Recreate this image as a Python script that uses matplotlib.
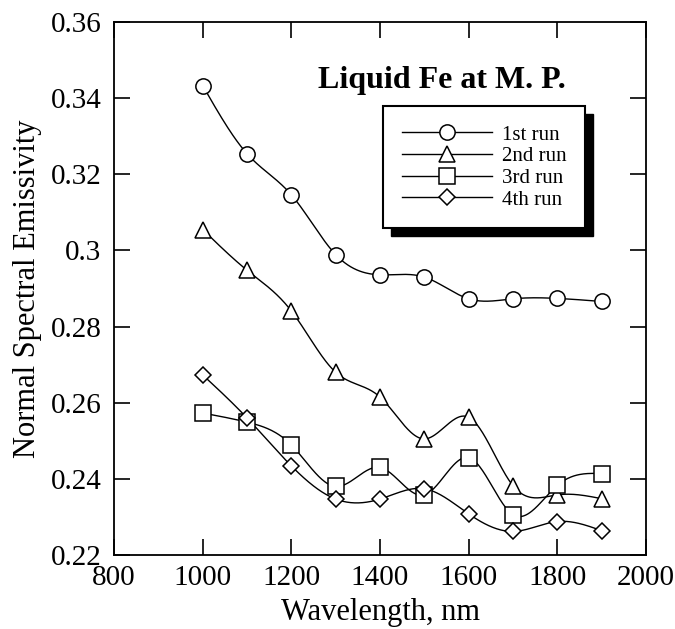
import numpy as np
import matplotlib
matplotlib.use("Agg")
import matplotlib.pyplot as plt
from matplotlib.patches import Rectangle
from matplotlib.ticker import FuncFormatter

plt.rcParams['font.family'] = ['Liberation Serif', 'DejaVu Serif']

# wavelength, nm
wavelength = [1000, 1100, 1200, 1300, 1400, 1500, 1600, 1700, 1800, 1900]

# normal spectral emissivity for each run
run1 = [0.3433, 0.3254, 0.3146, 0.2989, 0.2936, 0.2930, 0.2873, 0.2873, 0.2874, 0.2866]
run2 = [0.3055, 0.2948, 0.2841, 0.2680, 0.2615, 0.2505, 0.2562, 0.2382, 0.2358, 0.2348]
run3 = [0.2573, 0.2549, 0.2489, 0.2380, 0.2430, 0.2358, 0.2456, 0.2306, 0.2383, 0.2414]
run4 = [0.2673, 0.2560, 0.2434, 0.2347, 0.2347, 0.2374, 0.2308, 0.2262, 0.2288, 0.2264]

labels = ['1st run', '2nd run', '3rd run', '4th run']
markers = ['o', '^', 's', 'D']
marker_sizes = [11, 11, 11, 8]


def natural_spline(x, y, n=400):
    # natural cubic spline through the points, used only to draw the smooth line
    x = np.asarray(x, float)
    y = np.asarray(y, float)
    k = len(x)
    h = np.diff(x)
    A = np.zeros((k, k))
    b = np.zeros(k)
    A[0, 0] = A[-1, -1] = 1
    for i in range(1, k - 1):
        A[i, i - 1] = h[i - 1]
        A[i, i] = 2 * (h[i - 1] + h[i])
        A[i, i + 1] = h[i]
        b[i] = 6 * ((y[i + 1] - y[i]) / h[i] - (y[i] - y[i - 1]) / h[i - 1])
    M = np.linalg.solve(A, b)
    xs = np.linspace(x[0], x[-1], n)
    idx = np.clip(np.searchsorted(x, xs) - 1, 0, k - 2)
    x0, x1 = x[idx], x[idx + 1]
    hh = x1 - x0
    a = (x1 - xs) / hh
    c = (xs - x0) / hh
    ys = (a * y[idx] + c * y[idx + 1]
          + ((a ** 3 - a) * M[idx] + (c ** 3 - c) * M[idx + 1]) * hh ** 2 / 6)
    return xs, ys


fig = plt.figure(figsize=(6.75, 6.29), dpi=100)
ax = fig.add_axes([0.169, 0.1176, 0.788, 0.8474])

handles = []
for vals, lab, mk, ms in zip([run1, run2, run3, run4], labels, markers, marker_sizes):
    xs, ys = natural_spline(wavelength, vals)
    ax.plot(xs, ys, color='black', lw=1.0, zorder=2)
    ax.plot(wavelength, vals, linestyle='none', marker=mk, ms=ms,
            mfc='white', mec='black', mew=1.1, zorder=3)
    h, = ax.plot([], [], color='black', lw=1.0, marker=mk, ms=ms,
                 mfc='white', mec='black', mew=1.1, label=lab)
    handles.append(h)

ax.set_xlim(800, 2000)
ax.set_ylim(0.22, 0.36)
ax.set_xticks(np.arange(800, 2001, 200))
ax.set_yticks(np.arange(0.22, 0.3601, 0.02))
ax.yaxis.set_major_formatter(FuncFormatter(lambda v, p: '%g' % round(v, 2)))
ax.tick_params(direction='in', length=11.5, width=1.2, labelsize=21,
               top=True, right=True)
ax.tick_params(axis='x', pad=7)
ax.tick_params(axis='y', pad=9)
for sp in ax.spines.values():
    sp.set_linewidth(1.3)

ax.set_xlabel('Wavelength, nm', fontsize=22, labelpad=5)
ax.set_ylabel('Normal Spectral Emissivity', fontsize=22, labelpad=6)

ax.text(0.617, 0.891, 'Liquid Fe at M. P.', transform=ax.transAxes,
        ha='center', va='center', fontsize=23, fontweight='bold')

leg = ax.legend(handles=handles, loc='upper left', bbox_to_anchor=(0.506, 0.842),
                borderaxespad=0, fontsize=15, handlelength=4.3, handletextpad=0.5,
                labelspacing=0.1, borderpad=0.9, fancybox=False, framealpha=1,
                edgecolor='black')
leg.get_frame().set_linewidth(1.5)
leg.set_zorder(5)

# thick offset shadow behind the legend box
fig.canvas.draw()
bb = leg.get_window_extent()
inv = ax.transAxes.inverted()
(x0, y0), (x1, y1) = inv.transform([[bb.x0 + 8, bb.y0 - 8], [bb.x1 + 8, bb.y1 - 8]])
ax.add_patch(Rectangle((x0, y0), x1 - x0, y1 - y0, transform=ax.transAxes,
                       facecolor='black', edgecolor='black', zorder=4.9, clip_on=False))

fig.savefig('out.png', dpi=100)
